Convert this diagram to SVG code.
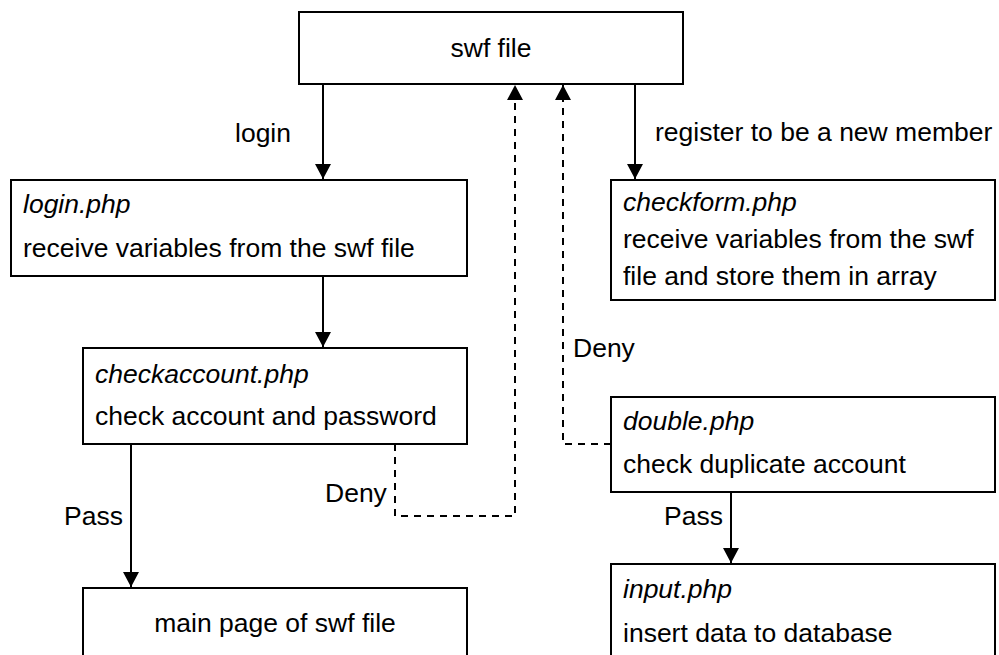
<svg xmlns="http://www.w3.org/2000/svg" width="999" height="655" viewBox="0 0 999 655">
<style>
  text { font-family: "Liberation Sans", Arial, sans-serif; font-size: 26.5px; fill: #000; }
  .it { font-style: italic; }
  .box { fill: #fff; stroke: #000; stroke-width: 2; }
  .ln { fill: none; stroke: #000; stroke-width: 2; marker-end: url(#ah); }
  .dash { stroke-dasharray: 7 6; }
</style>
<defs>
  <marker id="ah" markerUnits="userSpaceOnUse" markerWidth="16" markerHeight="16" refX="15" refY="8" orient="auto">
    <path d="M0,0 L15,8 L0,16 Z" fill="#000" stroke="none"/>
  </marker>
</defs>
<rect width="999" height="655" fill="#fff"/>
<g id="connectors">
  <path class="ln" d="M323,84 V179"/>
  <path class="ln" d="M323,276 V347"/>
  <path class="ln" d="M131,444 V587"/>
  <path class="ln" d="M635,84 V179"/>
  <path class="ln" d="M731,492 V563"/>
  <path class="ln dash" d="M395,444 V516 H515 V85"/>
  <path class="ln dash" d="M611,444 H563 V85"/>
  <text x="235" y="142">login</text>
  <text x="655" y="141">register to be a new member</text>
  <text x="64" y="525">Pass</text>
  <text x="325" y="502">Deny</text>
  <text x="573" y="357">Deny</text>
  <text x="664" y="525">Pass</text>
</g>
<g id="swf">
  <rect class="box" x="299" y="12" width="384" height="72"/>
  <text x="491" y="57" text-anchor="middle">swf file</text>
</g>
<g id="login">
  <rect class="box" x="11" y="180" width="456" height="96"/>
  <text class="it" x="23" y="213">login.php</text>
  <text x="23" y="257">receive variables from the swf file</text>
</g>
<g id="checkaccount">
  <rect class="box" x="83" y="348" width="384" height="96"/>
  <text class="it" x="95" y="383">checkaccount.php</text>
  <text x="95" y="425">check account and password</text>
</g>
<g id="mainpage">
  <rect class="box" x="83" y="588" width="384" height="90"/>
  <text x="275" y="632" text-anchor="middle">main page of swf file</text>
</g>
<g id="checkform">
  <rect class="box" x="611" y="180" width="384" height="120"/>
  <text class="it" x="623" y="211">checkform.php</text>
  <text x="623" y="248">receive variables from the swf</text>
  <text x="623" y="285">file and store them in array</text>
</g>
<g id="double">
  <rect class="box" x="611" y="397" width="384" height="95"/>
  <text class="it" x="623" y="430">double.php</text>
  <text x="623" y="473">check duplicate account</text>
</g>
<g id="input">
  <rect class="box" x="611" y="564" width="384" height="120"/>
  <text class="it" x="623" y="598">input.php</text>
  <text x="623" y="642">insert data to database</text>
</g>
</svg>
